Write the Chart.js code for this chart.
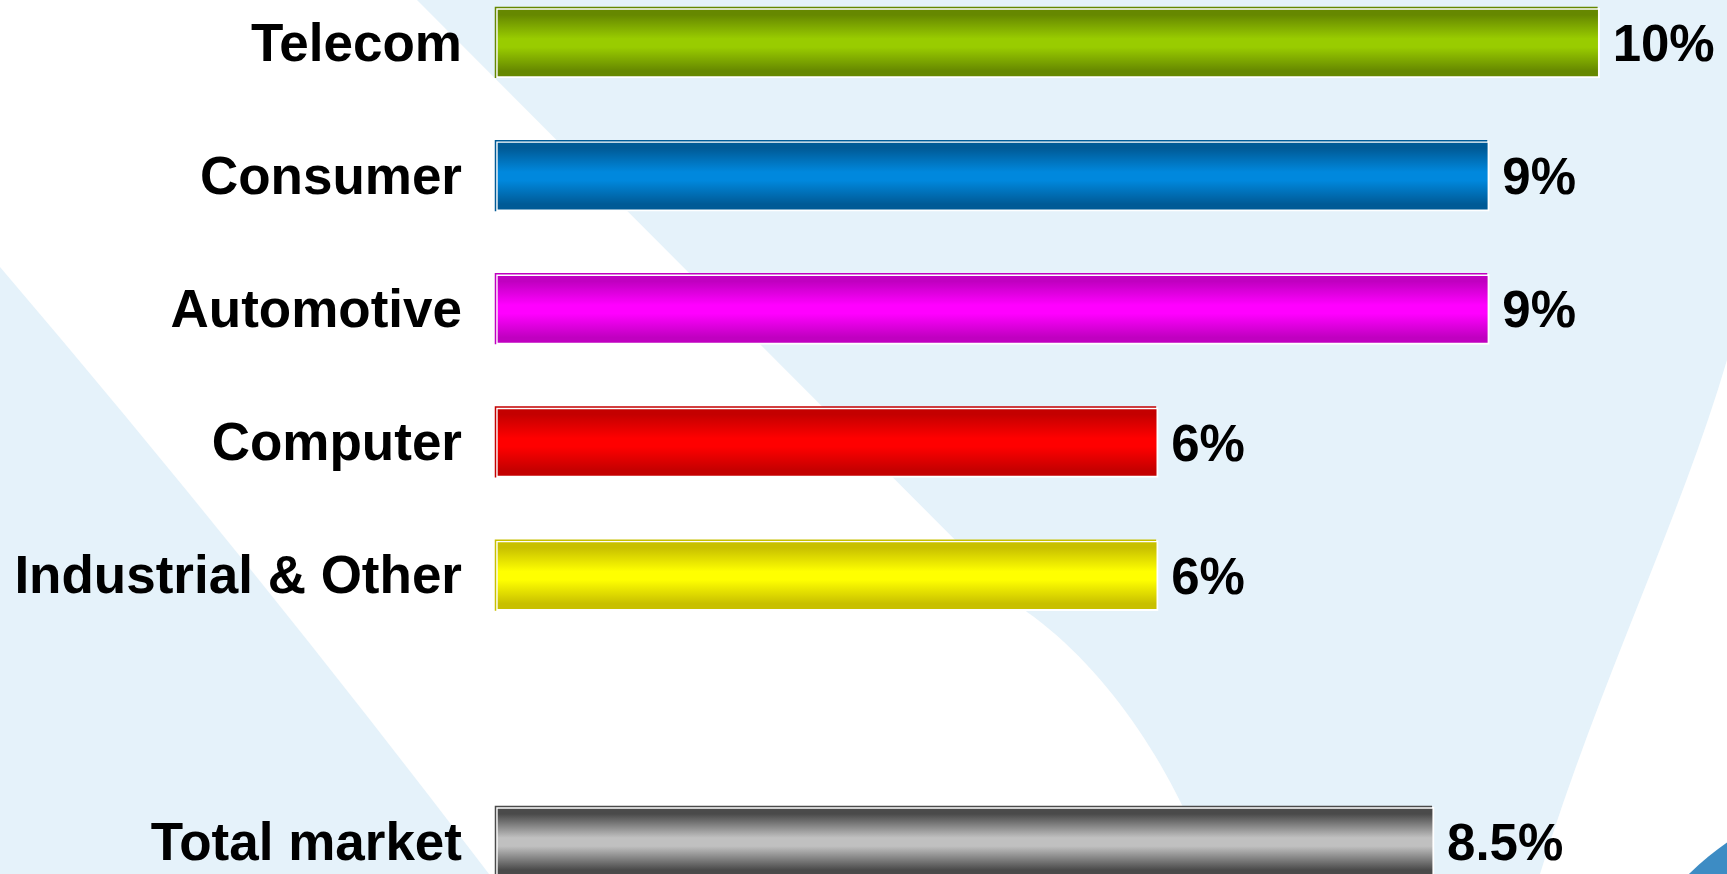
<!DOCTYPE html>
<html>
<head>
<meta charset="utf-8">
<title>Growth by segment</title>
<script src="https://cdn.jsdelivr.net/npm/chart.js@4/dist/chart.umd.min.js"></script>
<style>
    html, body { margin: 0; padding: 0; background: #fff; overflow: hidden; }
    #wrap { position: relative; width: 1727px; height: 874px; }
</style>
</head>
<body>
<div id="wrap"><canvas id="chart"></canvas></div>
<script>
// Datos de la gráfica
const categories = ['Telecom', 'Consumer', 'Automotive', 'Computer', 'Industrial & Other', '', 'Total market'];
const growth = [10, 9, 9, 6, 6, null, 8.5];
const valueLabels = ['10%', '9%', '9%', '6%', '6%', '', '8.5%'];

// Colores: tono claro al centro de la barra, tono oscuro arriba y abajo
const brightColors = ['#99cc00', '#0088dd', '#ff00ff', '#ff0000', '#ffff00', null, '#c0c0c0'];
const darkColors = ['#668800', '#005a96', '#c000c0', '#c40000', '#c8c000', null, '#4a4a4a'];

const BAR_H = 70;
const FONT = "'Liberation Sans', Arial, sans-serif";
const SKY = '#e5f2fa';

// Relleno con degradado vertical para cada barra
function barFill(ctx) {
    const i = ctx.dataIndex;
    const chart = ctx.chart;
    const yScale = chart.scales.y;
    if (brightColors[i] == null) return 'transparent';
    if (!chart.chartArea || !yScale) return brightColors[i];
    const c = yScale.getPixelForValue(i);
    const g = chart.ctx.createLinearGradient(0, c - BAR_H / 2, 0, c + BAR_H / 2);
    g.addColorStop(0, darkColors[i]);
    g.addColorStop(0.1, darkColors[i]);
    g.addColorStop(0.44, brightColors[i]);
    g.addColorStop(0.56, brightColors[i]);
    g.addColorStop(0.9, darkColors[i]);
    g.addColorStop(1, darkColors[i]);
    return g;
}

// Fondo: franjas celestes decorativas sobre blanco
const backdrop = {
    id: 'backdrop',
    beforeDraw(chart) {
        const { ctx, width, height } = chart;
        ctx.save();
        ctx.fillStyle = '#fff';
        ctx.fillRect(0, 0, width, height);
        ctx.fillStyle = SKY;
        // franja izquierda
        ctx.beginPath();
        ctx.moveTo(0, 267);
        ctx.quadraticCurveTo(250, 560, 489, 874);
        ctx.lineTo(0, 874);
        ctx.closePath();
        ctx.fill();
        // franja central
        ctx.beginPath();
        ctx.moveTo(417, 0);
        ctx.lineTo(1727, 0);
        ctx.lineTo(1727, 360);
        ctx.bezierCurveTo(1680, 520, 1600, 680, 1540, 874);
        ctx.lineTo(1210, 874);
        ctx.bezierCurveTo(1180, 780, 1110, 670, 1027, 612);
        ctx.lineTo(417, 0);
        ctx.closePath();
        ctx.fill();
        // círculo azul en la esquina
        ctx.fillStyle = '#3d8cc4';
        ctx.beginPath();
        ctx.arc(1900, 1090, 302, 0, Math.PI * 2);
        ctx.fill();
        ctx.restore();
    }
};

// Línea de color por fuera (arriba e izquierda) y etiqueta de valor
const barDecor = {
    id: 'barDecor',
    afterDatasetsDraw(chart) {
        const ctx = chart.ctx;
        const meta = chart.getDatasetMeta(0);
        ctx.save();
        meta.data.forEach((bar, i) => {
            if (growth[i] == null || !isFinite(bar.x)) return;
            const top = bar.y - bar.height / 2;
            const bottom = bar.y + bar.height / 2;
            ctx.strokeStyle = darkColors[i];
            ctx.lineWidth = 1.5;
            ctx.beginPath();
            ctx.moveTo(bar.base - 0.5, bottom);
            ctx.lineTo(bar.base - 0.5, top - 0.5);
            ctx.lineTo(bar.x - 2, top - 0.5);
            ctx.stroke();

            ctx.fillStyle = '#000';
            ctx.font = 'bold 51px ' + FONT;
            ctx.textAlign = 'left';
            ctx.textBaseline = 'middle';
            ctx.fillText(valueLabels[i], bar.x + 13, bar.y + 4);
        });
        ctx.restore();
    }
};

new Chart(document.getElementById('chart'), {
    type: 'bar',
    data: {
        labels: categories,
        datasets: [{
            data: growth,
            backgroundColor: barFill,
            borderColor: '#ffffff',
            borderWidth: 2,
            borderSkipped: false,
            barThickness: BAR_H,
            clip: false
        }]
    },
    options: {
        indexAxis: 'y',
        responsive: true,
        maintainAspectRatio: false,
        animation: false,
        devicePixelRatio: 1,
        layout: { padding: { top: 43, bottom: 32, left: 0, right: 17 } },
        plugins: { legend: { display: false }, tooltip: { enabled: false } },
        scales: {
            x: { display: false, min: 0, max: 11 },
            y: {
                offset: false,
                grid: { display: false, drawTicks: false },
                border: { display: false },
                ticks: {
                    autoSkip: false,
                    padding: 34,
                    labelOffset: 3,
                    color: '#000',
                    font: { family: FONT, size: 53, weight: 'bold' }
                },
                // ancho fijo del eje y sin relleno extra arriba/abajo
                afterFit(scale) {
                    scale.width = 496;
                    scale.paddingTop = 0;
                    scale.paddingBottom = 0;
                }
            }
        }
    },
    plugins: [backdrop, barDecor]
});
</script>
</body>
</html>
